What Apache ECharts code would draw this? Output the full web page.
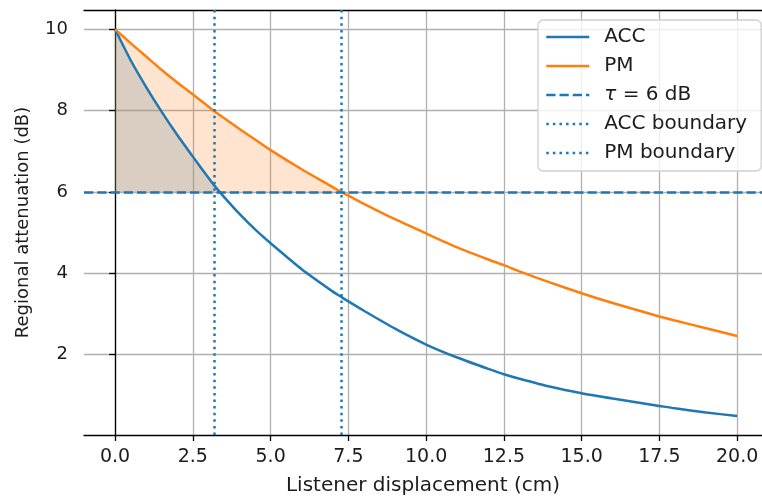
<!DOCTYPE html>
<html>
<head>
<meta charset="utf-8">
<script src="https://cdn.jsdelivr.net/npm/echarts@6/dist/echarts.min.js"></script>
<style>html,body{margin:0;padding:0;background:#fff}#c{width:762px;height:497px}</style>
</head>
<body>
<div id="c"></div>
<script>
// Listener displacement (cm)
var xs  = [0, 0.5, 1, 1.5, 2, 2.5, 3, 3.2, 3.5, 4, 4.5, 5, 6, 7, 7.27, 7.5, 8, 9, 10, 11, 12, 12.5, 13, 14, 15, 16, 17, 17.5, 18, 19, 20];
// Regional attenuation (dB)
var acc = [10, 9.24, 8.58, 7.97, 7.4, 6.87, 6.35, 6.15, 5.88, 5.46, 5.08, 4.74, 4.1, 3.55, 3.42, 3.31, 3.08, 2.64, 2.25, 1.93, 1.65, 1.52, 1.41, 1.21, 1.05, 0.92, 0.8, 0.74, 0.68, 0.58, 0.49];
var pm  = [10, 9.66, 9.33, 9.0, 8.69, 8.4, 8.1, 7.98, 7.82, 7.55, 7.29, 7.03, 6.56, 6.12, 6.0, 5.91, 5.71, 5.33, 4.98, 4.64, 4.34, 4.2, 4.05, 3.77, 3.51, 3.27, 3.05, 2.94, 2.84, 2.65, 2.46];
var tau = 6;
var accBoundary = 3.2;
var pmBoundary = 7.27;
var xTicks = [0, 2.5, 5, 7.5, 10, 12.5, 15, 17.5, 20];
var yTicks = [2, 4, 6, 8, 10];
var legendNames = ['ACC', 'PM', 'τ = 6 dB', 'ACC boundary', 'PM boundary'];

var C0 = '#1f77b4', C1 = '#ff7f0e';
var FONT = 'DejaVu Sans';
var TXT = '#1c1c1c';
function pairs(ys, lim) {
  var out = [];
  for (var i = 0; i < xs.length; i++) if (lim === undefined || xs[i] <= lim + 1e-9) out.push([xs[i], ys[i]]);
  return out;
}
var dashed = [9.25, 4];
var dotted = [2.5, 4.1];
var SM = 0.25;

var chart = echarts.init(document.getElementById('c'), null, {renderer: 'canvas'});
chart.setOption({
  animation: false,
  backgroundColor: '#fff',
  textStyle: {fontFamily: FONT},
  grid: {left: 84, top: 10, right: 0, bottom: 62, outerBoundsMode: 'none', containLabel: false},
  xAxis: [{
    type: 'value', min: -1, max: 20.8,
    name: 'Listener displacement (cm)', nameLocation: 'middle', nameGap: 41,
    nameTextStyle: {fontSize: 20, color: TXT, fontFamily: FONT},
    axisLine: {show: true, lineStyle: {color: '#000', width: 1.3}},
    axisTick: {show: true, length: 6, customValues: xTicks, lineStyle: {color: '#000', width: 1.3}},
    axisLabel: {customValues: xTicks, margin: 13, fontSize: 19, color: TXT, fontFamily: FONT,
      formatter: function (v) { return v.toFixed(1); }},
    splitLine: {show: true, lineStyle: {color: '#b0b0b0', width: 1.3}}
  }, {
    type: 'value', min: -1, max: 20.8, position: 'top',
    axisLine: {show: true, lineStyle: {color: '#000', width: 1.3}},
    axisTick: {show: false}, axisLabel: {show: false}, splitLine: {show: false}
  }],
  yAxis: {
    type: 'value', min: 0.025, max: 10.475,
    name: 'Regional attenuation (dB)', nameLocation: 'middle', nameGap: 52, nameRotate: 90,
    nameTextStyle: {fontSize: 18, color: TXT, fontFamily: FONT},
    axisLine: {show: true, lineStyle: {color: '#000', width: 1.3}},
    axisTick: {show: true, length: 6, customValues: yTicks, lineStyle: {color: '#000', width: 1.3}},
    axisLabel: {customValues: yTicks, margin: 16, fontSize: 18, color: TXT, fontFamily: FONT, padding: [5, 0, 0, 0]},
    splitLine: {show: true, lineStyle: {color: '#b0b0b0', width: 1.3}}
  },
  legend: {
    data: legendNames,
    orient: 'vertical', left: 538, top: 20,
    itemWidth: 43, itemHeight: 14, itemGap: 7,
    padding: [6, 14, 7, 7],
    itemStyle: {opacity: 0},
    lineStyle: {width: 2.5},
    backgroundColor: 'rgba(255,255,255,0.8)', borderColor: '#d0d0d0', borderWidth: 1.3, borderRadius: 5,
    textStyle: {fontSize: 20, color: TXT, fontFamily: FONT, lineHeight: 22, padding: [0, 0, 0, 10],
      rich: {i: {fontStyle: 'italic', fontSize: 20, fontFamily: FONT, color: TXT, lineHeight: 22}}},
    formatter: function (n) { return n.charAt(0) === 'τ' ? '{i|τ}' + n.slice(1) : n; }
  },
  series: [
    {name: 'PM fill', type: 'line', data: pairs(pm, pmBoundary), symbol: 'none', silent: true, smooth: SM,
      lineStyle: {width: 0, opacity: 0}, areaStyle: {origin: tau, color: C1, opacity: 0.2}, z: 1},
    {name: 'ACC fill', type: 'line', data: pairs(acc, accBoundary), symbol: 'none', silent: true, smooth: SM,
      lineStyle: {width: 0, opacity: 0}, areaStyle: {origin: tau, color: '#7a8ea0', opacity: 0.28}, z: 1},
    {name: 'ACC', type: 'line', data: pairs(acc), symbol: 'none', color: C0, smooth: SM,
      lineStyle: {color: C0, width: 2.5}, z: 3},
    {name: 'PM', type: 'line', data: pairs(pm), symbol: 'none', color: C1, smooth: SM,
      lineStyle: {color: C1, width: 2.5}, z: 3},
    {name: 'τ = 6 dB', type: 'line', data: [], symbol: 'none', color: C0,
      lineStyle: {color: C0, width: 2.5, type: dashed},
      markLine: {symbol: 'none', silent: true, label: {show: false}, animation: false,
        lineStyle: {color: C0, width: 2.5, type: dashed}, data: [{yAxis: tau}]}, z: 3},
    {name: 'ACC boundary', type: 'line', data: [], symbol: 'none', color: C0,
      lineStyle: {color: C0, width: 2.5, type: dotted},
      markLine: {symbol: 'none', silent: true, label: {show: false}, animation: false,
        lineStyle: {color: C0, width: 2.5, type: dotted}, data: [{xAxis: accBoundary}]}, z: 3},
    {name: 'PM boundary', type: 'line', data: [], symbol: 'none', color: C0,
      lineStyle: {color: C0, width: 2.5, type: dotted},
      markLine: {symbol: 'none', silent: true, label: {show: false}, animation: false,
        lineStyle: {color: C0, width: 2.5, type: dotted}, data: [{xAxis: pmBoundary}]}, z: 3}
  ]
});
</script>
</body>
</html>
